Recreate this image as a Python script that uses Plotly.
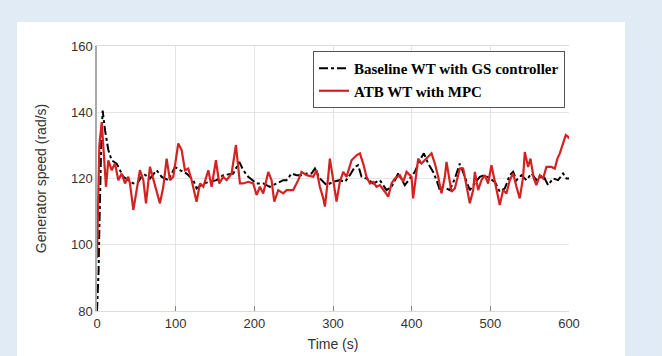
import plotly.graph_objects as go

# Baseline WT with GS controller (black dash-dot)
base_t = [0, 1, 2, 3, 4, 5.5, 7.2, 10.2, 14.4, 18.6, 25.0, 29.2, 33.5, 39.8, 46.2, 52.5, 58.9, 67.3,
          75.8, 82.2, 90.6, 99.1, 105.5, 113.9, 122.4, 126.6, 135.1, 143.6, 152.0, 160.5, 173.2, 180.9,
          185.9, 192.3, 202.9, 211.3, 219.8, 228.3, 236.7, 241.0, 247.3, 253.7, 260.0, 266.4, 272.7,
          277.0, 283.3, 291.8, 300.3, 308.7, 315.1, 321.4, 327.8, 332.0, 336.3, 342.6, 351.1, 359.6,
          368.0, 374.4, 382.9, 391.3, 397.7, 404.0, 410.4, 415.5, 421.0, 427.3, 431.6, 435.8, 440.0,
          448.5, 454.9, 461.2, 467.6, 473.9, 480.3, 486.6, 493.0, 499.3, 505.7, 512.0, 518.4, 524.7,
          529.0, 533.2, 539.6, 545.9, 552.3, 558.6, 567.1, 573.4, 579.8, 586.1, 592.5, 596.7, 600]
base_v = [80, 85, 92, 105, 120, 132, 140.5, 134.6, 128.6, 125.5, 124.5, 122.5, 120.5, 119.5, 118.5, 119,
          121.5, 120, 122.5, 120.5, 119.5, 123.5, 122.5, 121.5, 119.5, 117, 118.5, 119, 119.5, 121,
          121.5, 125, 122.5, 120.5, 118.5, 118.5, 117.5, 118.5, 119.5, 119.5, 121.5, 121, 121, 121.5,
          121.5, 123, 120, 118, 119, 119.5, 119, 121, 123.5, 124, 120.5, 120, 118.5, 119.5, 116.5,
          117.5, 121.5, 118, 120, 122, 125.5, 127.6, 124.5, 122, 119.5, 116.5, 117.5, 116.5, 120,
          124.5, 120.5, 116.5, 118.5, 120.5, 121, 120, 119, 116, 117, 121, 122, 119.5, 121, 119.5,
          121.5, 119.5, 121, 118, 120, 119.5, 121.5, 120, 120]

# ATB WT with MPC (red solid)
mpc_t = [0, 1.5, 3, 6, 8.0, 11.4, 14.4, 18.6, 22.9, 27.1, 31.3, 35.6, 39.8, 41.9, 46.2, 50.4, 54.6,
         58.9, 62.3, 67.3, 71.6, 75.8, 80.0, 84.3, 88.5, 92.7, 97.0, 103.3, 107.6, 111.8, 116.0, 120.3,
         126.6, 130.9, 135.1, 141.5, 145.7, 151.2, 155.4, 160.5, 164.8, 171.1, 176.6, 181.7, 185.9,
         192.3, 198.6, 202.9, 207.1, 211.3, 217.7, 221.9, 225.3, 230.4, 236.7, 241.0, 249.4, 255.8,
         260.0, 266.4, 274.9, 279.1, 283.3, 287.6, 289.7, 293.9, 296.0, 300.3, 304.5, 308.7, 313.0,
         317.2, 323.6, 329.9, 334.2, 338.4, 342.6, 346.9, 351.1, 355.3, 359.6, 365.9, 370.2, 374.4,
         378.6, 385.0, 389.2, 393.5, 399.8, 401.9, 406.2, 408.3, 412.5, 418.9, 425.2, 429.5, 433.7,
         437.9, 442.2, 444.3, 448.5, 450.6, 454.9, 461.2, 465.5, 469.7, 473.9, 478.2, 480.3, 484.5,
         488.7, 493.0, 497.2, 501.4, 505.7, 508.6, 512.0, 516.3, 520.5, 524.7, 529.0, 533.2, 537.4,
         541.7, 543.8, 548.0, 551.0, 555.2, 558.6, 562.9, 567.1, 571.3, 577.7, 581.9, 585.3, 588.3,
         592.5, 595.9, 598.8, 600]
mpc_v = [96, 115, 130, 137, 129.6, 117.5, 125.5, 122.5, 124.5, 119.5, 121.5, 118.5, 120.5, 118.5,
         110.5, 116.5, 122.5, 119.5, 112.5, 123.5, 119.5, 116.5, 112.5, 117.5, 126, 119.5, 120.5,
         130.6, 128.6, 122.5, 123, 119.5, 113, 118.5, 117.5, 122.5, 117.5, 125.5, 118.5, 120.5, 119.5,
         121.5, 130.1, 118.5, 118.5, 119, 118.5, 115, 117.5, 115.5, 122, 119.5, 113, 116.5, 115.5,
         116.5, 116.5, 119.5, 122, 121, 120.5, 122.5, 117.5, 114, 111.5, 120.5, 126, 119.5, 113, 119,
         122, 120.5, 125.5, 127, 127.6, 124.5, 120.5, 118.5, 119, 117.5, 118, 116, 114.5, 118.5, 120,
         121, 119, 122, 120.5, 114, 122, 126, 124.5, 126, 127.6, 124.5, 120.5, 115.5, 120.5, 125,
         118.5, 116, 117, 123, 123, 117.5, 112.5, 116.5, 122, 116.5, 119.5, 121, 118.5, 124, 119,
         115.5, 112, 116.5, 115.5, 119.5, 121.5, 117.5, 114, 120.5, 128, 123.5, 126, 120, 118, 121,
         120, 123.5, 123.5, 123, 126, 127.6, 130.6, 133.1, 132.6, 132]

x_ticks = [0, 100, 200, 300, 400, 500, 600]
y_ticks = [80, 100, 120, 140, 160]

fig = go.Figure()
fig.add_trace(go.Scatter(x=base_t, y=base_v, mode="lines", name="Baseline WT with GS controller",
                         line=dict(color="black", width=2, dash="dashdot")))
fig.add_trace(go.Scatter(x=mpc_t, y=mpc_v, mode="lines", name="ATB WT with MPC",
                         line=dict(color="#d42222", width=2.2)))

L, R, T, B = 97, 569, 46, 311
W, H = 662, 356
pw, ph = R - L, B - T

def px(x):
    return (x - L) / pw

def py(y):
    return (B - y) / ph

fig.add_shape(type="rect", xref="paper", yref="paper", x0=px(17), x1=px(625), y0=py(370), y1=py(22),
              fillcolor="white", line=dict(width=0), layer="below")

fig.update_layout(
    width=W, height=H,
    margin=dict(l=L, r=W - R, t=T, b=H - B, autoexpand=False),
    paper_bgcolor="#e0ebf6",
    plot_bgcolor="white",
    font=dict(family="Liberation Sans, Arial", size=13, color="#333333"),
    showlegend=True,
    legend=dict(x=px(313), y=py(51), xanchor="left", yanchor="top",
                bgcolor="white", bordercolor="#555555", borderwidth=1,
                font=dict(family="Liberation Serif, Times New Roman", size=15, color="black", weight="bold"),
                tracegroupgap=0, itemwidth=30),
    xaxis=dict(range=[0, 600], tickvals=x_ticks, ticktext=[str(v) for v in x_ticks],
               showgrid=True, gridcolor="#e4e4e4", gridwidth=1, zeroline=False, automargin=False,
               showline=True, linecolor="#dcdcdc", linewidth=1, mirror=True,
               ticks="inside", ticklen=5, tickcolor="#888888",
               title=dict(text="Time (s)", font=dict(size=14, color="#333333"), standoff=9)),
    yaxis=dict(range=[80, 160], tickvals=y_ticks, ticktext=[str(v) for v in y_ticks],
               showgrid=True, gridcolor="#e4e4e4", gridwidth=1, zeroline=False, automargin=False,
               showline=True, linecolor="#aaaaaa", linewidth=1.5,
               ticks="", title=dict(text="Generator speed (rad/s)", font=dict(size=14, color="#333333"), standoff=21)),
)

fig.write_html("out.html")
